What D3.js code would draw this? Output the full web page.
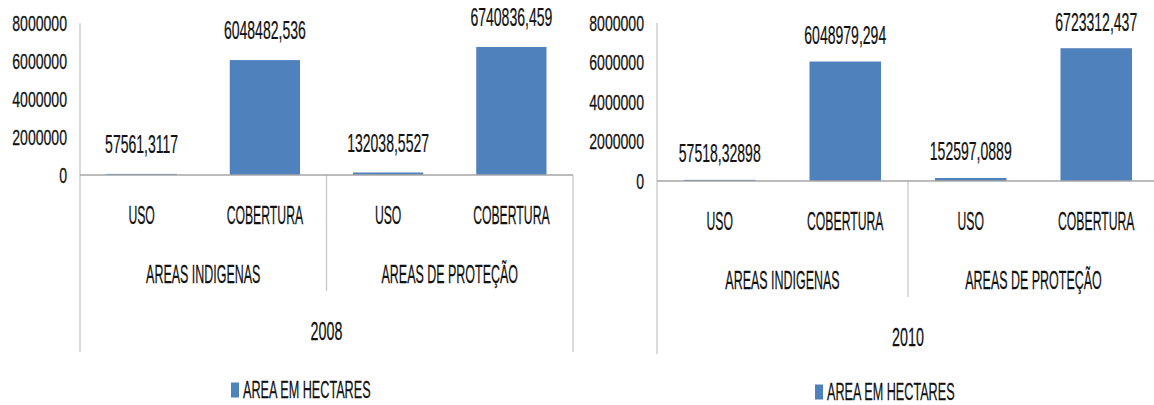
<!DOCTYPE html>
<html><head><meta charset="utf-8">
<script src="https://cdn.jsdelivr.net/npm/d3@7"></script>
<style>
html,body{margin:0;padding:0;background:#fff;}
svg{display:block;font-family:"Liberation Sans",Arial,sans-serif;}
</style></head>
<body>
<svg id="chart" width="1154" height="405"></svg>
<script>
// ---- data ----
const categories = ["USO", "COBERTURA", "USO", "COBERTURA"];
const groups = ["AREAS INDIGENAS", "AREAS DE PROTEÇÃO"];
const years = ["2008", "2010"];
const values2008 = [57561.3117, 6048482.536, 132038.5527, 6740836.459];
const values2010 = [57518.32898, 6048979.294, 152597.0889, 6723312.437];
const yTicks = [0, 2000000, 4000000, 6000000, 8000000];
const seriesName = "AREA EM HECTARES";

const BAR = "#4F81BD", TXT = "#111", LINE_A = "#a6a6a6", LINE_B = "#c8c8c8";
const svg = d3.select("#chart");

function txt(g, x, y, s, size, sx, anchor) {
  return g.append("text")
    .attr("transform", `translate(${x},${y}) scale(${sx},1)`)
    .attr("text-anchor", anchor || "middle")
    .attr("dy", "0.36em")
    .attr("font-size", size)
    .attr("fill", TXT)
    .attr("stroke", TXT).attr("stroke-width", 0.25)
    .text(s);
}

function drawChart(cfg, values, year) {
  const g = svg.append("g");
  const y = d3.scaleLinear().domain([0, 8000000]).range([cfg.y0, cfg.yTop]);
  const x = d3.scaleBand().domain(d3.range(categories.length))
    .range([cfg.axisX, cfg.rightX]).paddingInner(0.43).paddingOuter(0.215);
  const gx = d3.scaleBand().domain(d3.range(groups.length))
    .range([cfg.axisX, cfg.rightX]);

  // y axis (labels only)
  const ax = g.append("g").attr("transform", `translate(${cfg.axisX},0)`)
    .call(d3.axisLeft(y).tickValues(yTicks).tickSize(0).tickFormat(d3.format("d")));
  ax.select(".domain").remove();
  ax.selectAll("text").each(function(d) {
    d3.select(this).remove();
    txt(ax, -cfg.tickPad, y(d), String(d), 22, 0.64, "end");
  });

  // axis lines
  g.append("line").attr("x1", cfg.axisX).attr("x2", cfg.axisX)
    .attr("y1", y(8000000)).attr("y2", cfg.axisBottom)
    .attr("stroke", LINE_B).attr("stroke-width", 1.3);
  g.append("line").attr("x1", gx(1)).attr("x2", gx(1))
    .attr("y1", cfg.y0).attr("y2", cfg.sepBottom)
    .attr("stroke", LINE_B).attr("stroke-width", 1.3);
  g.append("line").attr("x1", cfg.rightX).attr("x2", cfg.rightX)
    .attr("y1", cfg.y0).attr("y2", cfg.axisBottom)
    .attr("stroke", LINE_B).attr("stroke-width", 1.3);

  // bars
  g.selectAll("rect.bar").data(values).join("rect").attr("class", "bar")
    .attr("x", (d, i) => x(i)).attr("width", x.bandwidth())
    .attr("y", d => y(d)).attr("height", d => y(0) - y(d))
    .attr("fill", BAR);

  // baseline
  g.append("line").attr("x1", cfg.axisX).attr("x2", cfg.rightX)
    .attr("y1", y(0)).attr("y2", y(0))
    .attr("stroke", LINE_A).attr("stroke-width", 1.3);

  // value labels
  values.forEach((v, i) => {
    txt(g, x(i) + x.bandwidth() / 2, y(v) - cfg.labelOff, String(v).replace(".", ","), 26, 0.54);
  });

  // category labels
  categories.forEach((c, i) => {
    txt(g, x(i) + x.bandwidth() / 2, cfg.catY, c, 26, 0.47);
  });
  groups.forEach((c, i) => {
    txt(g, gx(i) + gx.bandwidth() / 2, cfg.grpY, c, 26, 0.48);
  });
  txt(g, (cfg.axisX + cfg.rightX) / 2, cfg.yearY, year, 26, 0.55);

  // legend
  g.append("rect").attr("x", cfg.legX).attr("y", cfg.legY - 7.5)
    .attr("width", 8).attr("height", 15).attr("fill", BAR);
  txt(g, cfg.legX + 12, cfg.legY, seriesName, 23, 0.55, "start");
}

drawChart({axisX: 80, rightX: 573, y0: 175, yTop: 23, tickPad: 13,
  catY: 215, grpY: 274, yearY: 331, sepBottom: 291, axisBottom: 352,
  legX: 231, legY: 390, labelOff: 30}, values2008, years[0]);

drawChart({axisX: 657, rightX: 1159, y0: 181, yTop: 23, tickPad: 13,
  catY: 221, grpY: 280, yearY: 337, sepBottom: 297, axisBottom: 354,
  legX: 815, legY: 392, labelOff: 27}, values2010, years[1]);
</script>
</body></html>
